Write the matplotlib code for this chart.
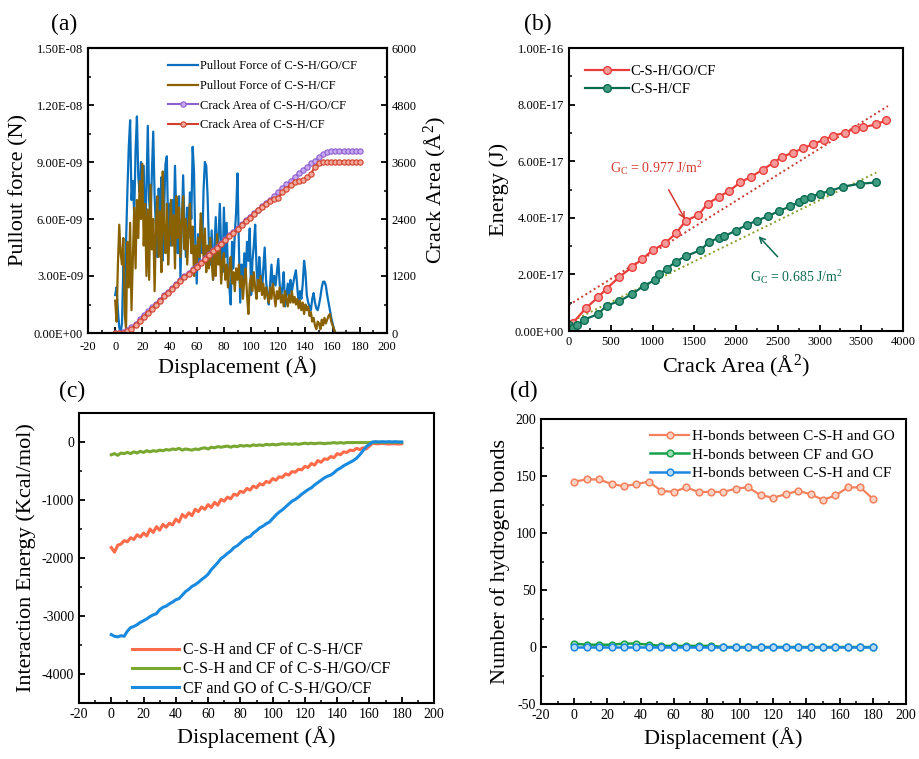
import numpy as np
import matplotlib
matplotlib.use("Agg")
import matplotlib.pyplot as plt
from matplotlib.ticker import MultipleLocator, FixedLocator, FixedFormatter

plt.rcParams['font.family'] = ['Liberation Serif', 'DejaVu Serif']
plt.rcParams['mathtext.fontset'] = 'custom'
plt.rcParams['mathtext.rm'] = 'Liberation Serif'
plt.rcParams['mathtext.it'] = 'Liberation Serif:italic'
plt.rcParams['axes.unicode_minus'] = False

# ---------------- (a) pullout force and crack area ----------------
disp_force = np.arange(0, 181, 1)
force_go = [2.0, 2.4, 1.2, 0.3, 0.0, 0.5, 3.5, 2.0, 4.8, 7.5, 9.8, 11.2, 7.0, 8.0, 6.2, 9.6, 11.4, 8.2, 7.4, 9.0,
            6.4, 8.8, 5.2, 7.5, 10.9, 7.0, 5.6, 8.4, 10.6, 7.2, 5.5, 4.0, 7.6, 6.0, 8.2, 3.8, 6.5, 8.9, 9.3, 5.4,
            6.8, 4.6, 7.0, 5.2, 8.8, 6.0, 4.2, 7.2, 2.9, 5.5, 8.3, 5.8, 4.0, 6.6, 5.0, 7.4, 6.0, 9.8, 8.5, 4.5,
            2.6, 5.2, 3.4, 6.0, 4.2, 7.5, 9.0, 8.8, 7.2, 4.6, 3.6, 5.4, 2.8, 4.4, 6.1, 3.8, 5.0, 6.8, 4.4, 3.2,
            6.6, 4.0, 5.8, 3.0, 2.4, 1.5, 4.8, 3.4, 5.2, 6.4, 8.4, 4.6, 1.6, 3.6, 2.4, 4.2, 3.0, 4.8, 3.8, 5.5,
            2.0, 3.8, 4.6, 5.7, 3.4, 2.4, 4.0, 3.0, 2.2, 3.4, 4.5, 2.8, 2.0, 1.5, 2.6, 3.6, 2.4, 3.0, 2.5, 3.2,
            3.9, 2.6, 1.8, 2.4, 3.2, 1.4, 2.0, 2.6, 1.8, 2.8, 2.2, 2.6, 3.0, 3.3, 2.4, 1.5, 2.2, 1.8, 2.6, 3.8,
            3.2, 2.0, 1.6, 1.4, 1.2, 1.8, 2.1, 1.6, 1.3, 1.2, 1.5, 1.9, 2.4, 2.7, 2.7, 2.5, 2.0, 1.6, 1.2, 0.8,
            0.5, 0.2, 0.0, 0.0, 0.0, 0.0, 0.0, 0.0, 0.0, 0.0, 0.0, 0.0, 0.0, 0.0, 0.0, 0.0, 0.0, 0.0, 0.0, 0.0,
            0.0]
force_cf = [1.7, 0.6, 3.6, 5.7, 4.2, 3.6, 5.0, 1.0, 0.2, 4.8, 2.4, 5.8, 1.2, 4.0, 6.6, 3.4, 7.0, 5.0, 8.0, 6.0,
            8.9, 4.6, 6.8, 3.0, 6.5, 2.8, 7.8, 4.4, 6.0, 2.2, 5.6, 7.2, 4.0, 6.4, 3.2, 8.5, 5.4, 4.2, 6.8, 3.6,
            5.2, 7.0, 4.6, 6.2, 3.4, 7.2, 5.0, 6.6, 4.0, 5.8, 7.2, 4.4, 6.0, 3.6, 5.4, 6.8, 4.2, 5.6, 3.0, 4.6,
            3.4, 5.0, 4.0, 6.3, 5.2, 4.0, 5.5, 3.2, 4.6, 3.4, 5.0, 3.8, 2.8, 4.2, 3.0, 5.2, 3.6, 4.4, 2.6, 3.8,
            4.2, 2.8, 3.6, 2.4, 3.4, 4.0, 2.6, 3.2, 2.2, 3.4, 2.8, 3.6, 2.4, 3.0, 1.8, 2.8, 3.4, 2.0, 1.0, 2.6,
            3.0, 2.2, 3.2, 2.4, 1.8, 2.8, 2.2, 3.0, 2.0, 2.6, 1.8, 2.4, 2.0, 1.6, 2.4, 1.8, 2.6, 2.0, 1.4, 2.2,
            1.8, 2.4, 1.6, 2.0, 1.4, 2.2, 1.8, 1.4, 2.0, 1.6, 2.2, 1.6, 1.9, 1.5, 1.8, 1.3, 1.7, 1.2, 1.6, 1.0,
            1.5, 1.2, 1.4, 0.9, 1.1, 0.6, 0.8, 0.4, 0.2, 0.6, 0.5, 0.2, 0.7, 0.4, 0.8, 0.5, 0.7, 0.9, 1.0, 0.6,
            0.4, 0.2, 0.0, 0.0, 0.0, 0.0, 0.0, 0.0, 0.0, 0.0, 0.0, 0.0, 0.0, 0.0, 0.0, 0.0, 0.0, 0.0, 0.0, 0.0,
            0.0]
disp_crack = np.arange(0, 181, 3)
crack_go = [0, 0, 20, 60, 120, 190, 290, 380, 460, 540, 620, 700, 790, 870, 950, 1040, 1110, 1190, 1270, 1340,
            1420, 1500, 1580, 1660, 1740, 1820, 1900, 1980, 2060, 2130, 2210, 2290, 2370, 2450, 2520, 2600, 2670,
            2740, 2810, 2880, 2960, 3050, 3130, 3200, 3280, 3360, 3430, 3500, 3570, 3630, 3700, 3770, 3810, 3830,
            3830, 3830, 3830, 3830, 3830, 3830, 3830]
crack_cf = [0, 0, 10, 40, 90, 160, 250, 340, 430, 510, 600, 680, 770, 850, 930, 1020, 1090, 1170, 1250, 1320,
            1400, 1480, 1560, 1640, 1720, 1800, 1880, 1960, 2040, 2110, 2190, 2270, 2350, 2430, 2500, 2580, 2650,
            2720, 2780, 2830, 2850, 2960, 3040, 3120, 3180, 3210, 3230, 3280, 3350, 3500, 3580, 3600, 3610, 3610,
            3610, 3610, 3610, 3610, 3610, 3610, 3610]

# ---------------- (b) energy vs crack area ----------------
area_go = [0, 50, 200, 350, 450, 600, 750, 880, 1000, 1150, 1280, 1400, 1550, 1660, 1800, 1920, 2050, 2180,
           2320, 2450, 2550, 2680, 2800, 2920, 3050, 3160, 3300, 3420, 3520, 3680, 3800]
energy_go = [0.0, 0.3, 0.8, 1.2, 1.5, 1.9, 2.25, 2.55, 2.85, 3.1, 3.45, 3.9, 4.1, 4.5, 4.75, 4.95, 5.25, 5.45,
             5.7, 5.95, 6.15, 6.3, 6.45, 6.6, 6.75, 6.9, 7.0, 7.15, 7.2, 7.3, 7.45]
area_cf = [0, 50, 100, 180, 350, 450, 600, 750, 900, 1030, 1080, 1170, 1280, 1400, 1570, 1680, 1800, 1860, 2000,
           2130, 2250, 2380, 2520, 2650, 2750, 2820, 2900, 3000, 3130, 3280, 3480, 3680]
energy_cf = [0.2, 0.1, 0.2, 0.4, 0.6, 0.9, 1.05, 1.3, 1.6, 1.8, 2.0, 2.2, 2.45, 2.65, 2.85, 3.15, 3.3, 3.35, 3.55,
             3.75, 3.9, 4.05, 4.25, 4.4, 4.55, 4.65, 4.75, 4.85, 4.95, 5.1, 5.2, 5.25]
fit_go_x = [0, 3820]
fit_go_y = [0.92, 7.95]
fit_cf_x = [0, 3680]
fit_cf_y = [0.3, 5.6]

# ---------------- (c) interaction energy ----------------
disp_int = np.arange(0, 181, 2)
int_csh_cf = [-1820, -1900, -1780, -1760, -1700, -1720, -1650, -1680, -1600, -1640, -1570, -1620, -1500, -1560,
              -1460, -1520, -1420, -1470, -1400, -1430, -1330, -1380, -1250, -1300, -1220, -1270, -1160, -1200,
              -1120, -1160, -1080, -1130, -1040, -1090, -990, -1020, -950, -980, -900, -920, -850, -870, -800,
              -830, -760, -790, -720, -740, -680, -700, -630, -660, -600, -610, -550, -570, -510, -520, -470,
              -480, -420, -440, -370, -400, -320, -350, -290, -300, -250, -270, -200, -220, -170, -180, -140,
              -150, -110, -130, -100, -120, -70, -20, -30, -30, -25, -30, -35, -30, -30, -35, -30]
int_csh_go = [-220, -200, -230, -190, -200, -180, -200, -170, -190, -160, -180, -150, -170, -150, -160, -140,
              -150, -130, -140, -120, -130, -110, -140, -120, -130, -140, -120, -130, -110, -100, -120, -90,
              -100, -80, -90, -80, -70, -90, -70, -80, -60, -70, -60, -70, -50, -60, -50, -60, -40, -50, -40,
              -50, -40, -30, -40, -30, -40, -30, -40, -30, -20, -30, -20, -30, -20, -20, -30, -20, -20, -10,
              -20, -10, -20, -10, -10, -10, -10, -10, -10, -10, -10, -5, -5, -5, -5, -5, -5, -5, -5, -5, -5]
int_cf_go = [-3320, -3350, -3360, -3340, -3350, -3260, -3200, -3180, -3150, -3110, -3080, -3050, -3010, -2980,
             -2960, -2890, -2850, -2830, -2790, -2760, -2720, -2700, -2640, -2580, -2540, -2490, -2460, -2420,
             -2370, -2330, -2280, -2200, -2140, -2080, -2010, -1970, -1920, -1880, -1820, -1790, -1740, -1690,
             -1650, -1630, -1570, -1530, -1480, -1450, -1410, -1380, -1320, -1260, -1210, -1170, -1120, -1070,
             -1020, -990, -950, -900, -860, -820, -790, -740, -700, -660, -620, -590, -570, -530, -480, -450,
             -410, -380, -350, -320, -280, -220, -150, -80, -40, 0, 5, 0, 5, 0, 5, 0, 5, 0, 0]

# ---------------- (d) hydrogen bonds ----------------
disp_hb = np.arange(0, 181, 7.5)
hb_csh_go = [145, 147, 147, 143, 141, 143, 145, 137, 136, 140, 136, 136, 136, 139, 140, 133, 131, 134, 137, 134,
             129, 133, 140, 140, 130]
hb_cf_go = [3, 2, 2, 2, 3, 3, 2, 1, 1, 1, 1, 1, 0, 0, 0, 0, 0, 0, 0, 0, 0, 0, 0, 0, 0]
hb_csh_cf = [0, 0, 0, 0, 0, 0, 0, 0, 0, 0, 0, 0, 0, 0, 0, 0, 0, 0, 0, 0, 0, 0, 0, 0, 0]

disp_ticks = [-20, 0, 20, 40, 60, 80, 100, 120, 140, 160, 180, 200]
force_ticks = [0, 3e-9, 6e-9, 9e-9, 1.2e-8, 1.5e-8]
force_labels = ['0.00E+00', '3.00E-09', '6.00E-09', '9.00E-09', '1.20E-08', '1.50E-08']
crack_ticks = [0, 1200, 2400, 3600, 4800, 6000]
energy_ticks = [0, 2e-17, 4e-17, 6e-17, 8e-17, 1e-16]
energy_labels = ['0.00E+00', '2.00E-17', '4.00E-17', '6.00E-17', '8.00E-17', '1.00E-16']

W, H = 919, 759
fig = plt.figure(figsize=(W / 100, H / 100), dpi=100)


def box(l, t, r, b):
    return [l / W, 1 - b / H, (r - l) / W, (b - t) / H]


def style(ax, fs=9):
    for s in ax.spines.values():
        s.set_linewidth(1.5)
    ax.tick_params(which='both', direction='in', labelsize=fs, top=False, right=False)
    ax.tick_params(which='major', length=4, width=1.3)
    ax.tick_params(which='minor', length=2.5, width=1.1)


# (a)
axa = fig.add_axes(box(88, 48, 387, 333))
style(axa, 9)
axa.tick_params(axis='x', pad=6)
l1, = axa.plot(disp_force, np.array(force_go) * 1e-9, color='#0a6fbd', lw=1.6, label='Pullout Force of C-S-H/GO/CF')
l2, = axa.plot(disp_force, np.array(force_cf) * 1e-9, color='#8a6100', lw=1.6, label='Pullout Force of C-S-H/CF')
axa.set_xlim(-20, 200)
axa.set_ylim(0, 1.5e-8)
axa.xaxis.set_major_locator(FixedLocator(disp_ticks))
axa.xaxis.set_minor_locator(MultipleLocator(10))
axa.yaxis.set_major_locator(FixedLocator(force_ticks))
axa.yaxis.set_major_formatter(FixedFormatter(force_labels))
axa.yaxis.set_minor_locator(MultipleLocator(1.5e-9))
axa.set_xlabel('Displacement (Å)', fontsize=16, labelpad=2)
axa.set_ylabel('Pullout force (N)', fontsize=16)
axb2 = axa.twinx()
style(axb2, 9)
axb2.tick_params(which='both', right=True, left=False)
l3, = axb2.plot(disp_crack, crack_go, color='#8e5fcf', lw=1.5, marker='o', ms=3.8, mfc='#c6a9f0',
                mec='#8e5fcf', mew=0.8, label='Crack Area of C-S-H/GO/CF')
l4, = axb2.plot(disp_crack, crack_cf, color='#d0402a', lw=1.5, marker='o', ms=3.8, mfc='#f2a89a',
                mec='#d0402a', mew=0.8, label='Crack Area of C-S-H/CF')
axb2.set_ylim(0, 6000)
axb2.yaxis.set_major_locator(FixedLocator(crack_ticks))
axb2.yaxis.set_minor_locator(MultipleLocator(600))
axb2.set_ylabel('Crack Area (Å$^\\mathregular{2}$)', fontsize=16)
axa.legend(handles=[l1, l2, l3, l4], loc='upper left', bbox_to_anchor=(0.25, 0.975), frameon=False,
           fontsize=9, handlelength=2.4, handletextpad=0.15, labelspacing=0.62, borderaxespad=0)

# (b)
axb = fig.add_axes(box(569, 48, 903, 331))
style(axb, 9)
axb.plot(fit_go_x, np.array(fit_go_y) * 1e-17, color='#c83a30', lw=1.4, ls=(0, (1, 1.5)))
axb.plot(fit_cf_x, np.array(fit_cf_y) * 1e-17, color='#8aa02a', lw=1.4, ls=(0, (1, 1.5)))
axb.plot(area_go, np.array(energy_go) * 1e-17, color='#ea3d3a', lw=1.6, marker='o', ms=5.5, mfc='#f59a98',
         mec='#ea3d3a', mew=1.0, label='C-S-H/GO/CF')
axb.plot(area_cf, np.array(energy_cf) * 1e-17, color='#0b6b52', lw=1.6, marker='o', ms=5.5, mfc='#3f9c80',
         mec='#0b6b52', mew=1.0, label='C-S-H/CF')
axb.set_xlim(0, 4000)
axb.set_ylim(0, 1e-16)
axb.xaxis.set_major_locator(MultipleLocator(500))
axb.xaxis.set_minor_locator(MultipleLocator(250))
axb.yaxis.set_major_locator(FixedLocator(energy_ticks))
axb.yaxis.set_major_formatter(FixedFormatter(energy_labels))
axb.yaxis.set_minor_locator(MultipleLocator(1e-17))
axb.set_xlabel('Crack Area (Å$^\\mathregular{2}$)', fontsize=16)
axb.set_ylabel('Energy (J)', fontsize=16)
axb.legend(loc='upper left', bbox_to_anchor=(0.03, 0.96), frameon=False, fontsize=10.5,
           handlelength=3.0, handletextpad=0.1, labelspacing=0.3, borderaxespad=0)
axb.annotate('G$_\\mathregular{C}$ = 0.977 J/m$^\\mathregular{2}$', xy=(1390, 3.95e-17), xytext=(1050, 5.75e-17),
             color='#d23a30', fontsize=10, ha='center', va='center',
             arrowprops=dict(arrowstyle='->', color='#d23a30', lw=1.1, shrinkA=8, shrinkB=0))
axb.annotate('G$_\\mathregular{C}$ = 0.685 J/m$^\\mathregular{2}$', xy=(2270, 3.35e-17), xytext=(2720, 1.92e-17),
             color='#0b6b52', fontsize=10, ha='center', va='center',
             arrowprops=dict(arrowstyle='->', color='#0b6b52', lw=1.1, shrinkA=8, shrinkB=0))

# (c)
axc = fig.add_axes(box(79, 413, 434, 703))
style(axc, 10)
axc.plot(disp_int, int_csh_cf, color='#ff6a48', lw=2.2, label='C-S-H and CF of C-S-H/CF')
axc.plot(disp_int, int_csh_go, color='#78a830', lw=2.2, label='C-S-H and CF of C-S-H/GO/CF')
axc.plot(disp_int, int_cf_go, color='#1a8ae0', lw=2.2, label='CF and GO of C-S-H/GO/CF')
axc.set_xlim(-20, 200)
axc.set_ylim(-4500, 500)
axc.xaxis.set_major_locator(FixedLocator(disp_ticks))
axc.xaxis.set_minor_locator(MultipleLocator(10))
axc.yaxis.set_major_locator(MultipleLocator(1000))
axc.yaxis.set_minor_locator(MultipleLocator(500))
axc.set_xlabel('Displacement (Å)', fontsize=16)
axc.set_ylabel('Interaction Energy (Kcal/mol)', fontsize=16)
axc.legend(loc='lower left', bbox_to_anchor=(0.13, 0.0), frameon=False, fontsize=11.5,
           handlelength=3.0, handletextpad=0.2, labelspacing=0.2, borderaxespad=0)

# (d)
axd = fig.add_axes(box(541, 419, 906, 704))
style(axd, 10)
axd.plot(disp_hb, hb_csh_go, color='#f4805c', lw=1.6, marker='o', ms=4.8, mfc='#fbd3c5', mec='#f4805c',
         mew=1.1, label='H-bonds between C-S-H and GO')
axd.plot(disp_hb, hb_cf_go, color='#17a04a', lw=1.8, marker='o', ms=4.8, mfc='#9fe0b5', mec='#17a04a',
         mew=1.1, label='H-bonds between CF and GO')
axd.plot(disp_hb, hb_csh_cf, color='#1e86e0', lw=1.8, marker='o', ms=4.8, mfc='#b7dcfa', mec='#1e86e0',
         mew=1.1, label='H-bonds between C-S-H and CF')
axd.set_xlim(-20, 200)
axd.set_ylim(-50, 200)
axd.xaxis.set_major_locator(FixedLocator(disp_ticks))
axd.xaxis.set_minor_locator(MultipleLocator(10))
axd.yaxis.set_major_locator(MultipleLocator(50))
axd.yaxis.set_minor_locator(MultipleLocator(25))
axd.set_xlabel('Displacement (Å)', fontsize=16)
axd.set_ylabel('Number of hydrogen bonds', fontsize=16)
axd.legend(loc='upper right', bbox_to_anchor=(0.985, 0.985), frameon=False, fontsize=11,
           handlelength=2.6, handletextpad=0.15, labelspacing=0.32, borderaxespad=0)

for lab, px, py in [('(a)', 64, 24), ('(b)', 538, 24), ('(c)', 72, 391), ('(d)', 524, 391)]:
    fig.text(px / W, 1 - py / H, lab, fontsize=17, ha='center', va='center')

fig.savefig('out.png', dpi=100)
